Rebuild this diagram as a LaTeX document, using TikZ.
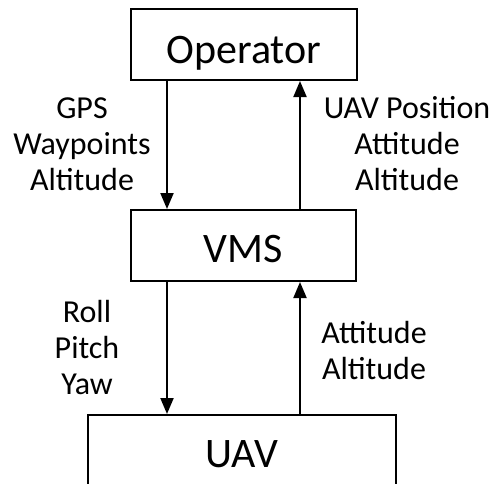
\documentclass[tikz,border=0pt]{standalone}
\usepackage{fontspec}
\setmainfont{Carlito}
\usetikzlibrary{arrows.meta}
\begin{document}
\begin{tikzpicture}[x=1pt,y=-1pt,
  block/.style={draw,line width=2pt,inner sep=0pt,text height=27pt,text depth=0pt,
    font=\fontsize{42}{42}\selectfont},
  flow/.style={line width=2pt,-{Triangle[length=16pt,width=13pt]}},
  lbl/.style={align=center,inner sep=0pt,font=\fontsize{32}{36}\selectfont}]
  \clip (0,0) rectangle (495,483);
  % blocks (the UAV block runs past the lower edge)
  \node[block,minimum width=226pt,minimum height=71pt] (op) at (244,44.5) {\raisebox{-5.5pt}{Operator}};
  \node[block,minimum width=225pt,minimum height=71pt] (vms) at (243.5,245.5) {\raisebox{-3pt}{VMS}};
  \node[block,minimum width=308pt,minimum height=80pt] (uav) at (242,455) {\raisebox{1.5pt}{UAV}};
  % commands down, telemetry up
  \draw[flow] ([xshift=-77pt]op.south) -- ([xshift=-76.5pt]vms.north);
  \draw[flow] ([xshift=56.5pt]vms.north) -- ([xshift=56pt]op.south);
  \draw[flow] ([xshift=-76.5pt]vms.south) -- ([xshift=-75pt]uav.north);
  \draw[flow] ([xshift=58pt]uav.north) -- ([xshift=56.5pt]vms.south);
  % labels
  \node[lbl] (l1) at (82,144) {GPS\\Waypoints\\Altitude};
  \node[lbl] (l2) at (407,144) {UAV Position\\Attitude\\Altitude};
  \node[lbl] (l3) at (87,347) {Roll\\Pitch\\Yaw};
  \node[lbl] (l4) at (374,350) {Attitude\\Altitude};
\end{tikzpicture}
\end{document}
